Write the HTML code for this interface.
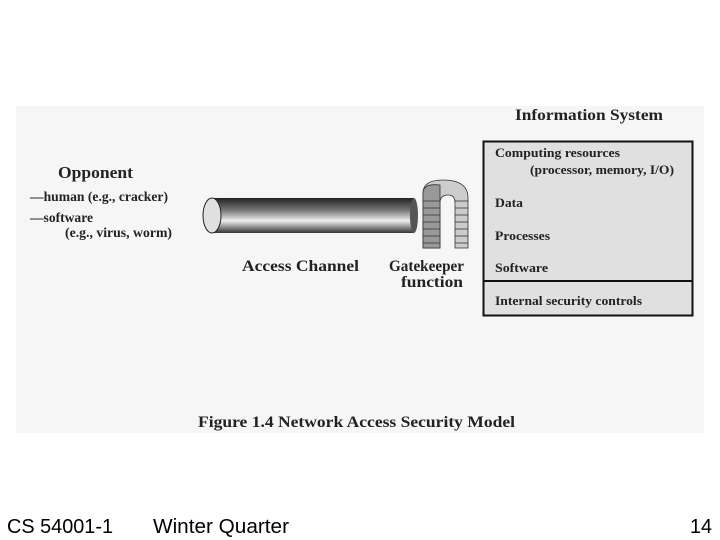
<!DOCTYPE html>
<html><head><style>
body{margin:0;width:720px;height:540px;background:#fff;overflow:hidden;position:relative;font-family:"Liberation Sans",sans-serif}
</style></head><body>
<svg width="720" height="540" style="position:absolute;left:0;top:0">
<defs>
<linearGradient id="tg" x1="0" y1="0" x2="0" y2="1">
<stop offset="0" stop-color="#222"/><stop offset="0.35" stop-color="#777"/><stop offset="0.65" stop-color="#eee"/><stop offset="1" stop-color="#333"/>
</linearGradient>
</defs>
<rect x="16" y="106" width="688" height="327" fill="#f6f6f6"/>
<g font-family="Liberation Serif,serif" font-weight="bold" fill="#222" lengthAdjust="spacingAndGlyphs">
<text x="58" y="178" font-size="17" textLength="75" lengthAdjust="spacingAndGlyphs">Opponent</text>
<text x="30" y="201" font-size="13.5" textLength="138" lengthAdjust="spacingAndGlyphs">—human (e.g., cracker)</text>
<text x="30" y="222" font-size="13.5" textLength="63" lengthAdjust="spacingAndGlyphs">—software</text>
<text x="65" y="237" font-size="13.5" textLength="107" lengthAdjust="spacingAndGlyphs">(e.g., virus, worm)</text>
<text x="242" y="271" font-size="15.5" textLength="117" lengthAdjust="spacingAndGlyphs">Access Channel</text>
<text x="389" y="271" font-size="15.5" textLength="75" lengthAdjust="spacingAndGlyphs">Gatekeeper</text>
<text x="401" y="287" font-size="15.5" textLength="62" lengthAdjust="spacingAndGlyphs">function</text>
<text x="515" y="120" font-size="15.5" textLength="148" lengthAdjust="spacingAndGlyphs">Information System</text>
<text x="198" y="427" font-size="16" textLength="317" lengthAdjust="spacingAndGlyphs">Figure 1.4 Network Access Security Model</text>
</g>
<rect x="212" y="198" width="202" height="35" fill="url(#tg)"/>
<ellipse cx="414" cy="215.5" rx="4" ry="17.5" fill="#555"/>
<ellipse cx="212" cy="215.5" rx="9" ry="17.5" fill="#e0e0e0" stroke="#222"/>
<g stroke="#333" stroke-width="0.8">
<path d="M423 193 Q423 180 443 180 Q468 180 468 198 L468 248 L455 248 L455 203 Q455 195 448 195 Q440 195 440 203 L440 248 L423 248 Z" fill="#ccc"/>
<path d="M423 193 Q423 183 440 185 L440 248 L423 248Z" fill="#999"/>
<g fill="none">
<line x1="423" y1="201" x2="440" y2="201"/><line x1="423" y1="208" x2="440" y2="208"/><line x1="423" y1="215" x2="440" y2="215"/><line x1="423" y1="222" x2="440" y2="222"/><line x1="423" y1="229" x2="440" y2="229"/><line x1="423" y1="236" x2="440" y2="236"/><line x1="423" y1="243" x2="440" y2="243"/>
<line x1="455" y1="201" x2="468" y2="201"/><line x1="455" y1="208" x2="468" y2="208"/><line x1="455" y1="215" x2="468" y2="215"/><line x1="455" y1="222" x2="468" y2="222"/><line x1="455" y1="229" x2="468" y2="229"/><line x1="455" y1="236" x2="468" y2="236"/><line x1="455" y1="243" x2="468" y2="243"/>
</g></g>
<rect x="483.5" y="141.5" width="209" height="174" fill="#e0e0e0" stroke="#111" stroke-width="2"/>
<line x1="483" y1="281" x2="693" y2="281" stroke="#111" stroke-width="2"/>
<g font-family="Liberation Serif,serif" font-weight="bold" fill="#222" font-size="13">
<text x="495" y="157" textLength="125" lengthAdjust="spacingAndGlyphs">Computing resources</text>
<text x="530" y="174" textLength="144" lengthAdjust="spacingAndGlyphs">(processor, memory, I/O)</text>
<text x="495" y="207" textLength="28" lengthAdjust="spacingAndGlyphs">Data</text>
<text x="495" y="240" textLength="55" lengthAdjust="spacingAndGlyphs">Processes</text>
<text x="495" y="272" textLength="53" lengthAdjust="spacingAndGlyphs">Software</text>
<text x="495" y="305" textLength="147" lengthAdjust="spacingAndGlyphs">Internal security controls</text>
</g>
<g font-family="Liberation Sans,sans-serif" font-size="20" fill="#000">
<text x="7" y="533" textLength="106" lengthAdjust="spacingAndGlyphs">CS 54001-1</text>
<text x="153" y="533" textLength="136" lengthAdjust="spacingAndGlyphs">Winter Quarter</text>
<text x="690" y="533" textLength="22" lengthAdjust="spacingAndGlyphs">14</text>
</g>
</svg>
</body></html>
